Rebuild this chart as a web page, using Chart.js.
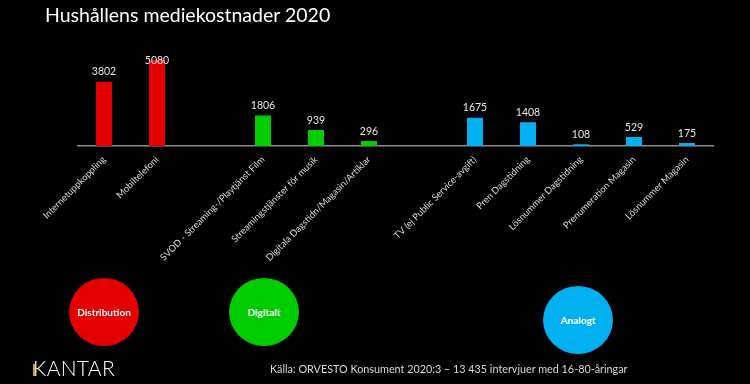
<!DOCTYPE html>
<html><head><meta charset="utf-8">
<script src="https://cdn.jsdelivr.net/npm/chart.js@4/dist/chart.umd.min.js"></script>
<style>
html,body{margin:0;padding:0;background:#000;}
#wrap{position:relative;width:750px;height:384px;background:#000;overflow:hidden;font-family:Lato,"Open Sans",sans-serif;}
#c{position:absolute;left:0;top:0;}
.title{position:absolute;left:45px;top:3px;color:#fff;font-size:19.5px;white-space:nowrap;}
.circ{position:absolute;width:70px;height:68px;border-radius:50%;display:flex;align-items:center;justify-content:center;color:#fff;font-weight:bold;font-size:10px;}
.kantar{position:absolute;left:33px;top:355px;color:#fff;font-size:21px;font-weight:300;letter-spacing:0.3px;}
.kbar{position:absolute;left:33px;top:364px;width:2px;height:12px;background:#c9a227;}
.src{position:absolute;left:270px;top:362px;color:#d9d9d9;font-size:10.8px;white-space:nowrap;}
</style></head>
<body><div id="wrap">
<canvas id="c" width="750" height="384"></canvas>
<div class="title">Hushållens mediekostnader 2020</div>
<div class="circ" style="left:69px;top:278px;background:#e30000;">Distribution</div>
<div class="circ" style="left:229px;top:278px;background:#00cc00;">Digitalt</div>
<div class="circ" style="left:543px;top:286px;background:#00b0f0;">Analogt</div>
<div class="kantar">KANTAR</div>
<div class="kbar"></div>
<div class="src">Källa: ORVESTO Konsument 2020:3 – 13 435 intervjuer med 16-80-åringar</div>
</div>
<script>
const categories = ['Internetuppkoppling','Mobiltelefoni','','SVOD - Streaming-/Playtjänst Film','Streamingstjänster för musik','Digitala Dagstidn/Magasin/Artiklar','','TV (ej Public Service-avgift)','Pren Dagstidning','Lösnummer Dagstidning','Prenumeration Magasin','Lösnummer Magasin'];
const costs = [3802,5080,null,1806,939,296,null,1675,1408,108,529,175];
const groups = ['Distribution','Distribution',null,'Digitalt','Digitalt','Digitalt',null,'Analogt','Analogt','Analogt','Analogt','Analogt'];

const groupColors = {Distribution:'#e30000', Digitalt:'#00cc00', Analogt:'#00b0f0'};
const barColors = groups.map(g => g ? groupColors[g] : 'rgba(0,0,0,0)');

const valueLabels = {
  id:'valueLabels',
  afterDatasetsDraw(chart){
    const ctx = chart.ctx;
    const meta = chart.getDatasetMeta(0);
    ctx.save();
    ctx.font = '10.5px Lato, "Open Sans", sans-serif';
    ctx.fillStyle = '#e6e6e6';
    ctx.textAlign = 'center';
    ctx.textBaseline = 'middle';
    meta.data.forEach((el,i)=>{
      const v = costs[i];
      if (v === null) return;
      const y = Math.max(el.y - 9.8, chart.chartArea.top + 16);
      ctx.fillText(String(v), el.x, y);
    });
    ctx.restore();
  }
};

new Chart(document.getElementById('c'), {
  type:'bar',
  data:{labels:categories, datasets:[{data:costs, backgroundColor:barColors, barPercentage:0.302, categoryPercentage:1}]},
  options:{
    responsive:false, animation:false,
    layout:{padding:{left:77.5, right:36.5, top:44.5, bottom:0}},
    plugins:{legend:{display:false}, tooltip:{enabled:false}},
    scales:{
      y:{display:false, min:0, max:6000},
      x:{
        grid:{display:false, drawTicks:false},
        border:{display:true, color:'#8c8c8c', width:1.5},
        ticks:{color:'#d9d9d9', font:{family:'Lato', size:9.4}, minRotation:45, maxRotation:45, autoSkip:false, padding:8},
        afterFit(scale){ scale.height = 384 - 146; }
      }
    }
  },
  plugins:[valueLabels]
});
</script>
</body></html>
